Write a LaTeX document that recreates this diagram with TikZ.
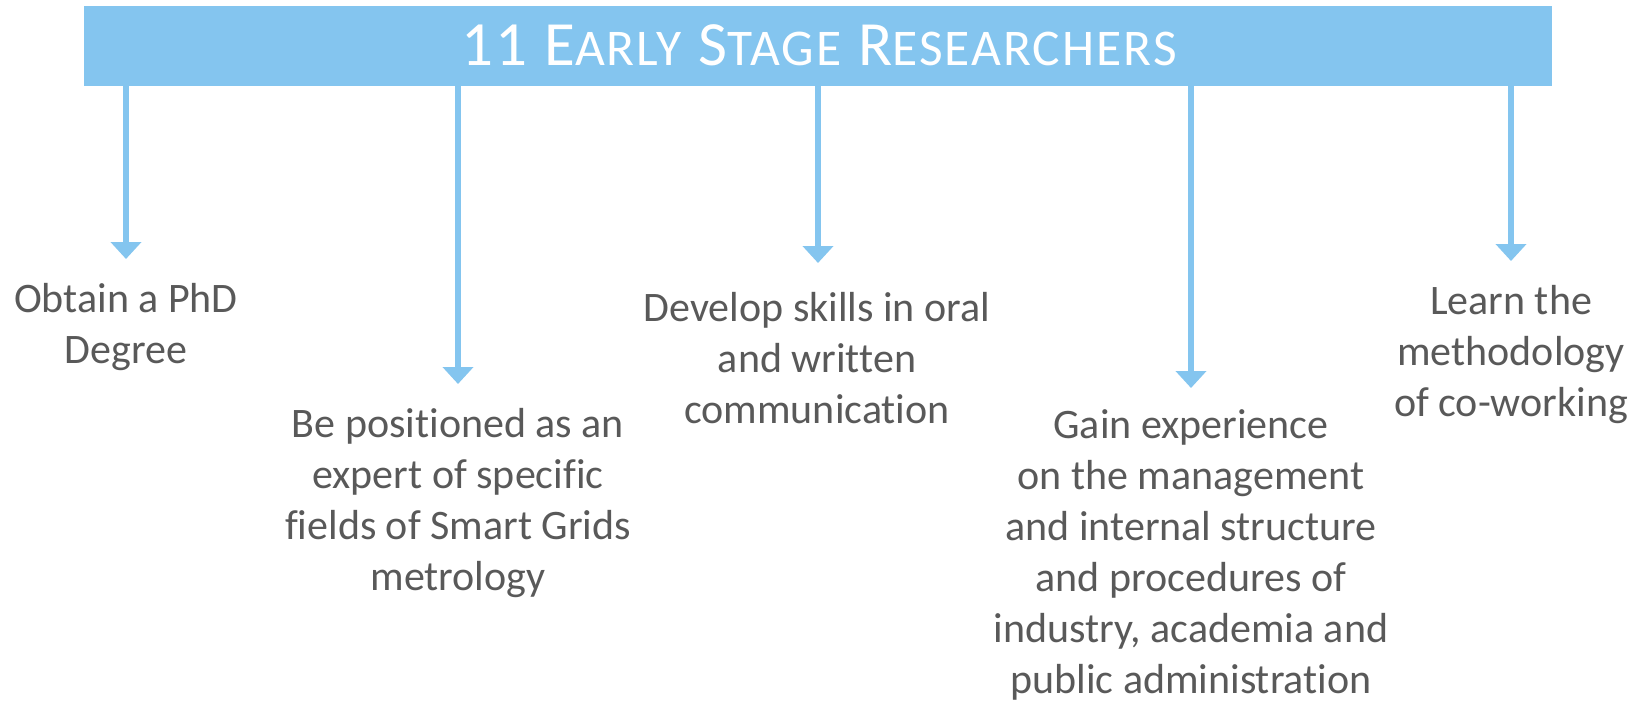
\documentclass[tikz,border=0pt]{standalone}
\usepackage{fontspec}
\setmainfont{Carlito}[Ligatures=NoCommon]
\newfontfamily\titlefont{Carlito}[LetterSpace=4.0,Ligatures=NoCommon]
\usetikzlibrary{arrows.meta}
\definecolor{skyb}{HTML}{84C5EF}
\definecolor{txtg}{HTML}{595959}
\newcommand{\sct}[1]{{\fontsize{51.5}{60}\selectfont #1}}
\begin{document}
\begin{tikzpicture}[x=1pt,y=-1pt,
  bannerbox/.style={fill=skyb, draw=none, inner sep=0pt, minimum width=1468pt, minimum height=80pt, anchor=north west},
  goal/.style={font=\fontsize{42}{51}\selectfont, text=txtg, align=center, inner sep=0pt, anchor=north},
  link/.style={draw=skyb, line width=6.5pt, -{Triangle[width=30pt,length=17pt]}}]
\useasboundingbox (0,0) rectangle (1640,701);
\fill[white] (0,0) rectangle (1640,701);
\node[bannerbox] (banner) at (84,6) {};
\node[anchor=base, text=white, font=\titlefont\fontsize{63}{70}\selectfont, inner sep=0pt] (title) at (819,66) {11 E\sct{ARLY} S\sct{TAGE} R\sct{ESEARCHERS}};
\node[goal] (g1) at (126,276.3) {\strut Obtain a PhD\\Degree};
\node[goal] (g2) at (458,401.3) {\strut Be positioned as an\\expert of specific\\fields of Smart Grids\\metrology};
\node[goal] (g3) at (817,285.3) {\strut Develop skills in oral\\and written\\communication};
\node[goal] (g4) at (1191,402.3) {\strut Gain experience\\on the management\\and internal structure\\and procedures of\\industry, academia and\\public administration};
\node[goal] (g5) at (1511,278.3) {\strut Learn the\\methodology\\of co-working};
\coordinate (t1) at (126,259);
\coordinate (t2) at (458,384);
\coordinate (t3) at (818,263);
\coordinate (t4) at (1191,388);
\coordinate (t5) at (1511,261);
\foreach \t in {t1,t2,t3,t4,t5} \draw[link] (\t |- banner.south) -- (\t);
\end{tikzpicture}
\end{document}
